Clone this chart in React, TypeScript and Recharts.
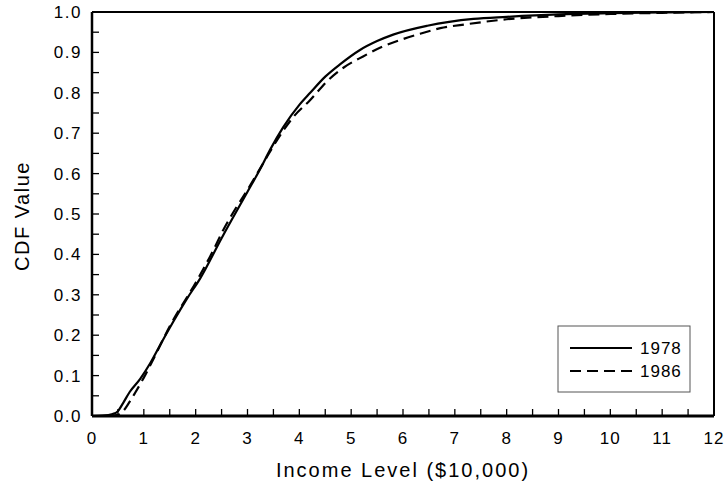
import { LineChart, Line, XAxis, YAxis } from 'recharts';

// CDF readings, x in $10,000
const income1978 = [0, 0.2, 0.4, 0.5, 0.6, 0.73, 0.93, 1.12, 1.35, 1.57, 1.83, 2.085, 2.5, 3.0, 3.24, 3.44, 3.69, 4.0, 4.21, 4.5, 4.79, 5.17, 5.5, 5.81, 6.47, 7.36, 8, 9, 10, 11, 12];
const cdf1978 = [0, 0.001, 0.005, 0.012, 0.032, 0.06, 0.092, 0.13, 0.184, 0.234, 0.29, 0.34, 0.44, 0.555, 0.61, 0.66, 0.715, 0.77, 0.8, 0.84, 0.871, 0.906, 0.928, 0.944, 0.966, 0.983, 0.988, 0.994, 0.997, 0.999, 1.0];

const income1986 = [0, 0.3, 0.5, 0.6, 0.7, 0.83, 1.0, 1.2, 1.5, 2.0, 2.34, 2.53, 2.73, 3.0, 3.3, 3.57, 3.89, 4.21, 4.53, 4.85, 5.23, 5.62, 6.0, 6.33, 6.72, 7.24, 8, 9, 10, 11, 12];
const cdf1986 = [0, 0, 0.003, 0.012, 0.03, 0.057, 0.095, 0.145, 0.222, 0.33, 0.41, 0.46, 0.505, 0.56, 0.625, 0.683, 0.741, 0.782, 0.828, 0.862, 0.89, 0.915, 0.933, 0.946, 0.96, 0.97, 0.982, 0.99, 0.995, 0.998, 1.0];

const xTicks = [0, 0.5, 1, 1.5, 2, 2.5, 3, 3.5, 4, 4.5, 5, 5.5, 6, 6.5, 7, 7.5, 8, 8.5, 9, 9.5, 10, 10.5, 11, 11.5, 12];
const yTicks = [0, 0.05, 0.1, 0.15, 0.2, 0.25, 0.3, 0.35, 0.4, 0.45, 0.5, 0.55, 0.6, 0.65, 0.7, 0.75, 0.8, 0.85, 0.9, 0.95, 1.0];

const data1978 = income1978.map((x, i) => ({ x, y: cdf1978[i] }));
const data1986 = income1986.map((x, i) => ({ x, y: cdf1986[i] }));

const FONT = '"Liberation Sans", Arial, sans-serif';
const TICK = 7;

const isWhole = (v: number, step: number) => Math.abs(v / step - Math.round(v / step)) < 1e-6;

// eslint-disable-next-line @typescript-eslint/no-explicit-any
const BottomTick = ({ x, y, payload }: any) => (
  <g>
    <line x1={x} y1={y} x2={x} y2={y - TICK} stroke="#000" strokeWidth={1.3} />
    {isWhole(payload.value, 1) && (
      <text x={x} y={y + 28} textAnchor="middle" fontSize={17} letterSpacing={1} fontFamily={FONT} fill="#000">
        {payload.value}
      </text>
    )}
  </g>
);

// eslint-disable-next-line @typescript-eslint/no-explicit-any
const TopTick = ({ x, y }: any) => (
  <line x1={x} y1={y} x2={x} y2={y + TICK} stroke="#000" strokeWidth={1.3} />
);

// eslint-disable-next-line @typescript-eslint/no-explicit-any
const LeftTick = ({ x, y, payload }: any) => (
  <g>
    <line x1={x} y1={y} x2={x + TICK} y2={y} stroke="#000" strokeWidth={1.3} />
    {isWhole(payload.value, 0.1) && (
      <text x={x - 10} y={y + 6} textAnchor="end" fontSize={17} letterSpacing={1.5} fontFamily={FONT} fill="#000">
        {payload.value.toFixed(1)}
      </text>
    )}
  </g>
);

// eslint-disable-next-line @typescript-eslint/no-explicit-any
const RightTick = ({ x, y }: any) => (
  <line x1={x} y1={y} x2={x - TICK} y2={y} stroke="#000" strokeWidth={1.3} />
);

export default function App() {
  return (
    <div style={{ position: 'absolute', left: 0, top: 0, width: 725, height: 490, background: '#fff' }}>
      <LineChart width={725} height={490} margin={{ top: 11, right: 10, bottom: 44, left: 32 }}>
        <XAxis xAxisId="b" dataKey="x" type="number" domain={[0, 12]} ticks={xTicks} interval={0}
          tickSize={0} tickMargin={0} height={30} tick={<BottomTick />}
          axisLine={{ stroke: '#000', strokeWidth: 3 }} allowDataOverflow />
        <XAxis xAxisId="t" orientation="top" dataKey="x" type="number" domain={[0, 12]} ticks={xTicks} interval={0}
          tickSize={0} tickMargin={0} height={1} tick={<TopTick />}
          axisLine={{ stroke: '#000', strokeWidth: 2 }} />
        <YAxis yAxisId="l" type="number" domain={[0, 1]} ticks={yTicks} interval={0}
          tickSize={0} tickMargin={0} width={60} tick={<LeftTick />}
          axisLine={{ stroke: '#000', strokeWidth: 2.5 }} allowDataOverflow />
        <YAxis yAxisId="r" orientation="right" type="number" domain={[0, 1]} ticks={yTicks} interval={0}
          tickSize={0} tickMargin={0} width={1} tick={<RightTick />}
          axisLine={{ stroke: '#000', strokeWidth: 2 }} />
        <Line xAxisId="b" yAxisId="l" data={data1978} dataKey="y" type="monotone" stroke="#000"
          strokeWidth={2.2} dot={false} isAnimationActive={false} />
        <Line xAxisId="b" yAxisId="l" data={data1986} dataKey="y" type="monotone" stroke="#000"
          strokeWidth={2.2} strokeDasharray="11 6" dot={false} isAnimationActive={false} />
      </LineChart>

      {/* axis titles */}
      <div style={{ position: 'absolute', left: 92, width: 622, top: 459, textAlign: 'center',
        fontFamily: FONT, fontSize: 20, letterSpacing: 2 }}>
        Income Level ($10,000)
      </div>
      <div style={{ position: 'absolute', left: 22, top: 216, transform: 'translate(-50%, -50%) rotate(-90deg)',
        fontFamily: FONT, fontSize: 20, letterSpacing: 1.5, whiteSpace: 'nowrap' }}>
        CDF Value
      </div>

      {/* legend */}
      <svg style={{ position: 'absolute', left: 0, top: 0 }} width={725} height={490}>
        <rect x={558} y={326} width={132} height={66} fill="#fff" stroke="#555" strokeWidth={1} />
        <line x1={570} y1={348} x2={632} y2={348} stroke="#000" strokeWidth={2.2} />
        <text x={640} y={354} fontSize={17} letterSpacing={1} fontFamily={FONT}>1978</text>
        <line x1={570} y1={371} x2={632} y2={371} stroke="#000" strokeWidth={2.2} strokeDasharray="11 6" />
        <text x={640} y={377} fontSize={17} letterSpacing={1} fontFamily={FONT}>1986</text>
      </svg>
    </div>
  );
}
